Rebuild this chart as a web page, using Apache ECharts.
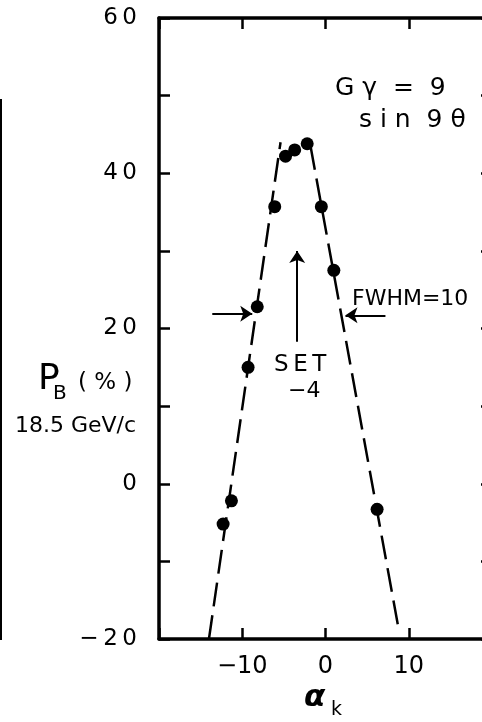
<!DOCTYPE html>
<html>
<head>
<meta charset="utf-8">
<script src="https://cdn.jsdelivr.net/npm/echarts@6/dist/echarts.min.js"></script>
<style>
  html, body { margin: 0; padding: 0; background: #fff; }
  #main { width: 482px; height: 722px; }
</style>
</head>
<body>
<div id="main"></div>
<script>
(function () {
    'use strict';

    // measured points (alpha_k, P_B %)
    var alphaK = [-12.3, -11.3, -9.3, -8.2, -6.1, -4.8, -3.7, -2.2, -0.5, 1.0, 6.2];
    var polB   = [-5.2, -2.2, 15.0, 22.8, 35.7, 42.2, 43.0, 43.8, 35.7, 27.5, -3.3];

    // dashed guide lines (end points)
    var fitLeft  = [[-14.0, -20], [-5.4, 44.0]];
    var fitRight = [[-1.8, 43.5], [8.8, -18.8]];

    // arrows: [from, to]
    var arrowLeft  = [[-13.6, 21.9], [-8.8, 21.9]];
    var arrowRight = [[7.2, 21.7], [2.4, 21.7]];
    var arrowSet   = [[-3.4, 18.3], [-3.4, 30.0]];

    var xTicks = { min: -20, max: 20, interval: 10 };
    var yTicks = { min: -20, max: 60, interval: 10 };

    var FONT = 'DejaVu Sans';

    function fmtY(v) {
        if (v % 20 !== 0) return '';
        return String(v).replace('-', '\u2212').split('').join('\u2009');
    }
    function fmtX(v) {
        if (v === -20 || v === 20) return '';
        return String(v).replace('-', '\u2212');
    }

    var points = alphaK.map(function (x, i) { return [x, polB[i]]; });

    function arrow(a) {
        return [{ coord: a[0] }, { coord: a[1] }];
    }

    function txt(left, top, text, size, extra) {
        var style = { text: text, fontSize: size, fontFamily: FONT, fill: '#000' };
        if (extra) {
            for (var k in extra) style[k] = extra[k];
        }
        return { type: 'text', left: left, top: top, style: style };
    }

    var axisLine = { show: true, onZero: false, lineStyle: { color: '#000', width: 3.5 } };
    var axisTick = { show: true, inside: true, length: 11, lineStyle: { color: '#000', width: 2.5 } };

    var myChart = echarts.init(document.getElementById('main'));

    var option = {
        animation: false,
        backgroundColor: '#fff',
        grid: { left: 159, top: 18, width: 333, height: 621, containLabel: false, outerBoundsMode: 'none' },
        xAxis: [{
            type: 'value',
            position: 'bottom',
            min: xTicks.min, max: xTicks.max, interval: xTicks.interval,
            axisLine: axisLine,
            axisTick: axisTick,
            splitLine: { show: false },
            axisLabel: { formatter: fmtX, color: '#000', fontSize: 24, fontFamily: FONT, margin: 16 }
        }, {
            type: 'value',
            position: 'top',
            min: xTicks.min, max: xTicks.max, interval: xTicks.interval,
            axisLine: axisLine,
            axisTick: axisTick,
            splitLine: { show: false },
            axisLabel: { show: false }
        }],
        yAxis: [{
            type: 'value',
            position: 'left',
            min: yTicks.min, max: yTicks.max, interval: yTicks.interval,
            axisLine: axisLine,
            axisTick: axisTick,
            splitLine: { show: false },
            axisLabel: { formatter: fmtY, color: '#000', fontSize: 23, fontFamily: FONT, margin: 22 }
        }, {
            type: 'value',
            position: 'right',
            min: yTicks.min, max: yTicks.max, interval: yTicks.interval,
            axisLine: axisLine,
            axisTick: axisTick,
            splitLine: { show: false },
            axisLabel: { show: false }
        }],
        series: [{
            name: 'fitLeft',
            type: 'line',
            data: fitLeft,
            showSymbol: false,
            silent: true,
            lineStyle: { color: '#000', width: 2.5, type: [24, 9] }
        }, {
            name: 'fitRight',
            type: 'line',
            data: fitRight,
            showSymbol: false,
            silent: true,
            lineStyle: { color: '#000', width: 2.5, type: [24, 9] }
        }, {
            name: 'P_B',
            type: 'scatter',
            data: points,
            symbol: 'circle',
            symbolSize: 13,
            itemStyle: { color: '#000', opacity: 1 },
            markLine: {
                silent: true,
                symbol: ['none', 'arrow'],
                symbolSize: 12,
                label: { show: false },
                lineStyle: { color: '#000', width: 2, type: 'solid' },
                data: [arrow(arrowLeft), arrow(arrowRight), arrow(arrowSet)]
            }
        }],
        graphic: [
            { type: 'rect', shape: { x: 0, y: 99, width: 2, height: 541 }, style: { fill: '#000' } },
            txt(335, 76, 'G \u03b3  =  9', 25),
            txt(359, 108, 's i n  9 \u03b8', 25),
            txt(352, 288, 'FWHM=10', 22),
            txt(274, 354, 'S\u2009E\u2009T', 23),
            txt(288, 380, '\u22124', 22),
            txt(38, 362, 'P', 36),
            txt(53, 384, 'B', 20),
            txt(78, 372, '( % )', 23),
            txt(15, 415, '18.5 GeV/c', 22),
            txt(304, 682, '\u03b1', 31, { fontStyle: 'italic', fontWeight: 'bold' }),
            txt(331, 701, 'k', 19)
        ]
    };

    myChart.setOption(option);
    window.addEventListener('resize', function () {
        myChart.resize();
    });
})();
</script>
</body>
</html>
